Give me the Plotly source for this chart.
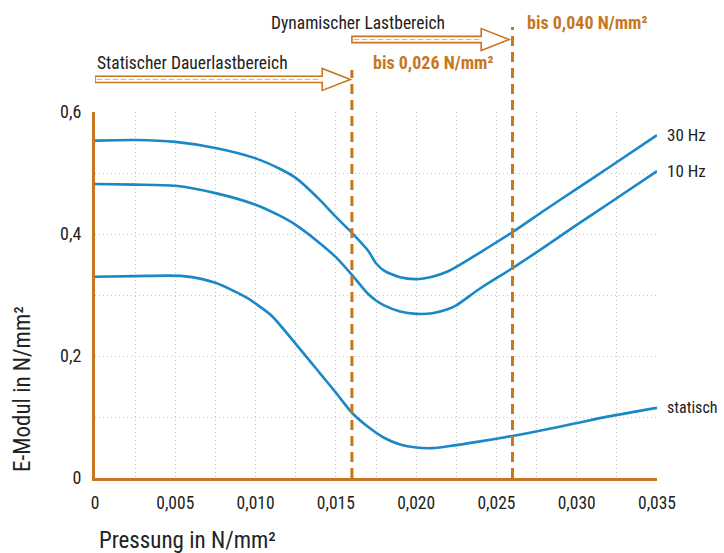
import plotly.graph_objects as go

# ---- data ----
x_30hz = [0, 0.0025, 0.005, 0.0075, 0.010, 0.0115, 0.0125, 0.014, 0.015, 0.016, 0.017, 0.0175, 0.018, 0.019, 0.020, 0.021, 0.022, 0.0225, 0.024, 0.026, 0.028, 0.030, 0.032, 0.035]
y_30hz = [0.553, 0.554, 0.551, 0.541, 0.524, 0.507, 0.492, 0.456, 0.428, 0.402, 0.373, 0.352, 0.340, 0.329, 0.326, 0.330, 0.339, 0.346, 0.370, 0.403, 0.439, 0.474, 0.509, 0.562]

x_10hz = [0, 0.0025, 0.005, 0.0075, 0.010, 0.0115, 0.0125, 0.014, 0.015, 0.016, 0.017, 0.0175, 0.018, 0.019, 0.020, 0.021, 0.022, 0.0225, 0.024, 0.026, 0.028, 0.030, 0.032, 0.035]
y_10hz = [0.482, 0.481, 0.479, 0.467, 0.448, 0.430, 0.415, 0.385, 0.362, 0.333, 0.302, 0.291, 0.283, 0.273, 0.269, 0.270, 0.277, 0.283, 0.311, 0.344, 0.379, 0.415, 0.450, 0.503]

x_stat = [0, 0.0025, 0.0055, 0.0075, 0.0095, 0.010, 0.011, 0.0125, 0.014, 0.015, 0.016, 0.017, 0.018, 0.019, 0.020, 0.021, 0.022, 0.024, 0.026, 0.028, 0.030, 0.032, 0.035]
y_stat = [0.330, 0.331, 0.331, 0.320, 0.295, 0.286, 0.266, 0.220, 0.172, 0.140, 0.107, 0.084, 0.066, 0.055, 0.050, 0.049, 0.052, 0.060, 0.069, 0.079, 0.090, 0.101, 0.115]

series_names = ["30 Hz", "10 Hz", "statisch"]

x_tick_vals = [0, 0.005, 0.010, 0.015, 0.020, 0.025, 0.030, 0.035]
x_tick_text = ["0", "0,005", "0,010", "0,015", "0,020", "0,025", "0,030", "0,035"]
y_tick_vals = [0, 0.2, 0.4, 0.6]
y_tick_text = ["0", "0,2", "0,4", "0,6"]

limits = [0.016, 0.026]          # Pressure limits (dashed lines)
range_labels = ["Statischer Dauerlastbereich", "Dynamischer Lastbereich"]
limit_labels = ["bis 0,026 N/mm²", "bis 0,040 N/mm²"]

# ---- style ----
BLUE = "#1a88c7"
ORANGE = "#c8771f"
TXT = "#222222"
FONT = "Liberation Sans Narrow, Roboto Condensed, Liberation Sans, sans-serif"

fig = go.Figure()
label_sizes = [17, 17, 16]
for xs, ys, name, ls in zip([x_30hz, x_10hz, x_stat], [y_30hz, y_10hz, y_stat], series_names, label_sizes):
    fig.add_trace(go.Scatter(x=xs, y=ys, mode="lines", name=name,
                             line=dict(color=BLUE, width=2.6, shape="spline", smoothing=0.7),
                             showlegend=False, hoverinfo="skip"))
    fig.add_annotation(x=xs[-1], y=ys[-1], xref="x", yref="y", text=name, showarrow=False,
                       xanchor="left", yanchor="middle", xshift=8,
                       font=dict(family=FONT, size=ls, color=TXT))

# dashed limit lines
tops = [1.115, 1.232]
for lx, top in zip(limits, tops):
    fig.add_shape(type="line", xref="x", yref="paper", x0=lx, x1=lx, y0=0, y1=top,
                  line=dict(color=ORANGE, width=3, dash="10px,6px"), layer="above")

# hollow arrows
starts = [0, limits[0]]
arrow_y = [1.089, 1.198]
head_len = 0.00175
tip_gap = [0.0001, 0.0002]
sh = 0.0085
hh = 0.030
for s, e, gy, g in zip(starts, limits, arrow_y, tip_gap):
    tip = e - g
    hb = tip - head_len
    path = (f"M {s},{gy - sh} L {hb},{gy - sh} L {hb},{gy - hh} L {tip},{gy} "
            f"L {hb},{gy + hh} L {hb},{gy + sh} L {s},{gy + sh} Z")
    fig.add_shape(type="path", xref="x", yref="paper", path=path,
                  line=dict(color=ORANGE, width=1.6), fillcolor="white", layer="above")
    fig.add_shape(type="line", xref="x", yref="paper", x0=s + 0.0001, x1=hb - 0.0001, y0=gy, y1=gy,
                  line=dict(color="#e6b27a", width=1, dash="6px,2px"), layer="above")

# range labels
fig.add_annotation(x=0, y=1.135, xref="x", yref="paper", text=range_labels[0], showarrow=False,
                   xanchor="left", yanchor="middle", font=dict(family=FONT, size=17.5, color=TXT))
fig.add_annotation(x=0.01084, y=1.243, xref="x", yref="paper", text=range_labels[1], showarrow=False,
                   xanchor="left", yanchor="middle", font=dict(family=FONT, size=17.5, color=TXT))
fig.add_annotation(x=0.02105, y=1.135, xref="x", yref="paper", text="<b>" + limit_labels[0] + "</b>",
                   showarrow=False, xanchor="center", yanchor="middle",
                   font=dict(family=FONT, size=18, color=ORANGE))
fig.add_annotation(x=0.03064, y=1.244, xref="x", yref="paper", text="<b>" + limit_labels[1] + "</b>",
                   showarrow=False, xanchor="center", yanchor="middle",
                   font=dict(family=FONT, size=18, color=ORANGE))

# axis titles
fig.add_annotation(x=0.003, y=-0.172, xref="paper", yref="paper", text="Pressung in N/mm²",
                   showarrow=False, xanchor="left", yanchor="middle",
                   font=dict(family=FONT, size=23, color=TXT))
fig.add_annotation(x=-0.13, y=0.243, xref="paper", yref="paper", text="E-Modul in N/mm²",
                   showarrow=False, textangle=-90, xanchor="center", yanchor="middle",
                   font=dict(family=FONT, size=23, color=TXT))

grid = dict(color="#c4c4c4", width=1, dash="1px,3px")
fig.update_layout(
    width=724, height=553,
    margin=dict(l=95, r=67, t=112, b=75),
    paper_bgcolor="white", plot_bgcolor="white",
    font=dict(family=FONT, size=17, color=TXT),
    xaxis=dict(range=[0, 0.035], tickvals=x_tick_vals, ticktext=x_tick_text,
               showgrid=True, gridcolor=grid["color"], gridwidth=1, griddash=grid["dash"],
               minor=dict(dtick=0.0025, showgrid=True, gridcolor=grid["color"], griddash=grid["dash"], gridwidth=1),
               showline=True, linecolor=ORANGE, linewidth=3, zeroline=False,
               ticks="", ticklabelstandoff=7, tickfont=dict(size=17.5, color=TXT)),
    yaxis=dict(range=[0, 0.6], tickvals=y_tick_vals, ticktext=y_tick_text,
               showgrid=True, gridcolor=grid["color"], gridwidth=1, griddash=grid["dash"],
               minor=dict(dtick=0.1, showgrid=True, gridcolor=grid["color"], griddash=grid["dash"], gridwidth=1),
               showline=True, linecolor=ORANGE, linewidth=3, zeroline=False,
               ticks="", ticklabelstandoff=7, tickfont=dict(size=18, color=TXT)),
)

fig.write_html("out.html", config={"displayModeBar": False},
               post_script="document.body.style.margin='0';document.documentElement.style.overflow='hidden';")
